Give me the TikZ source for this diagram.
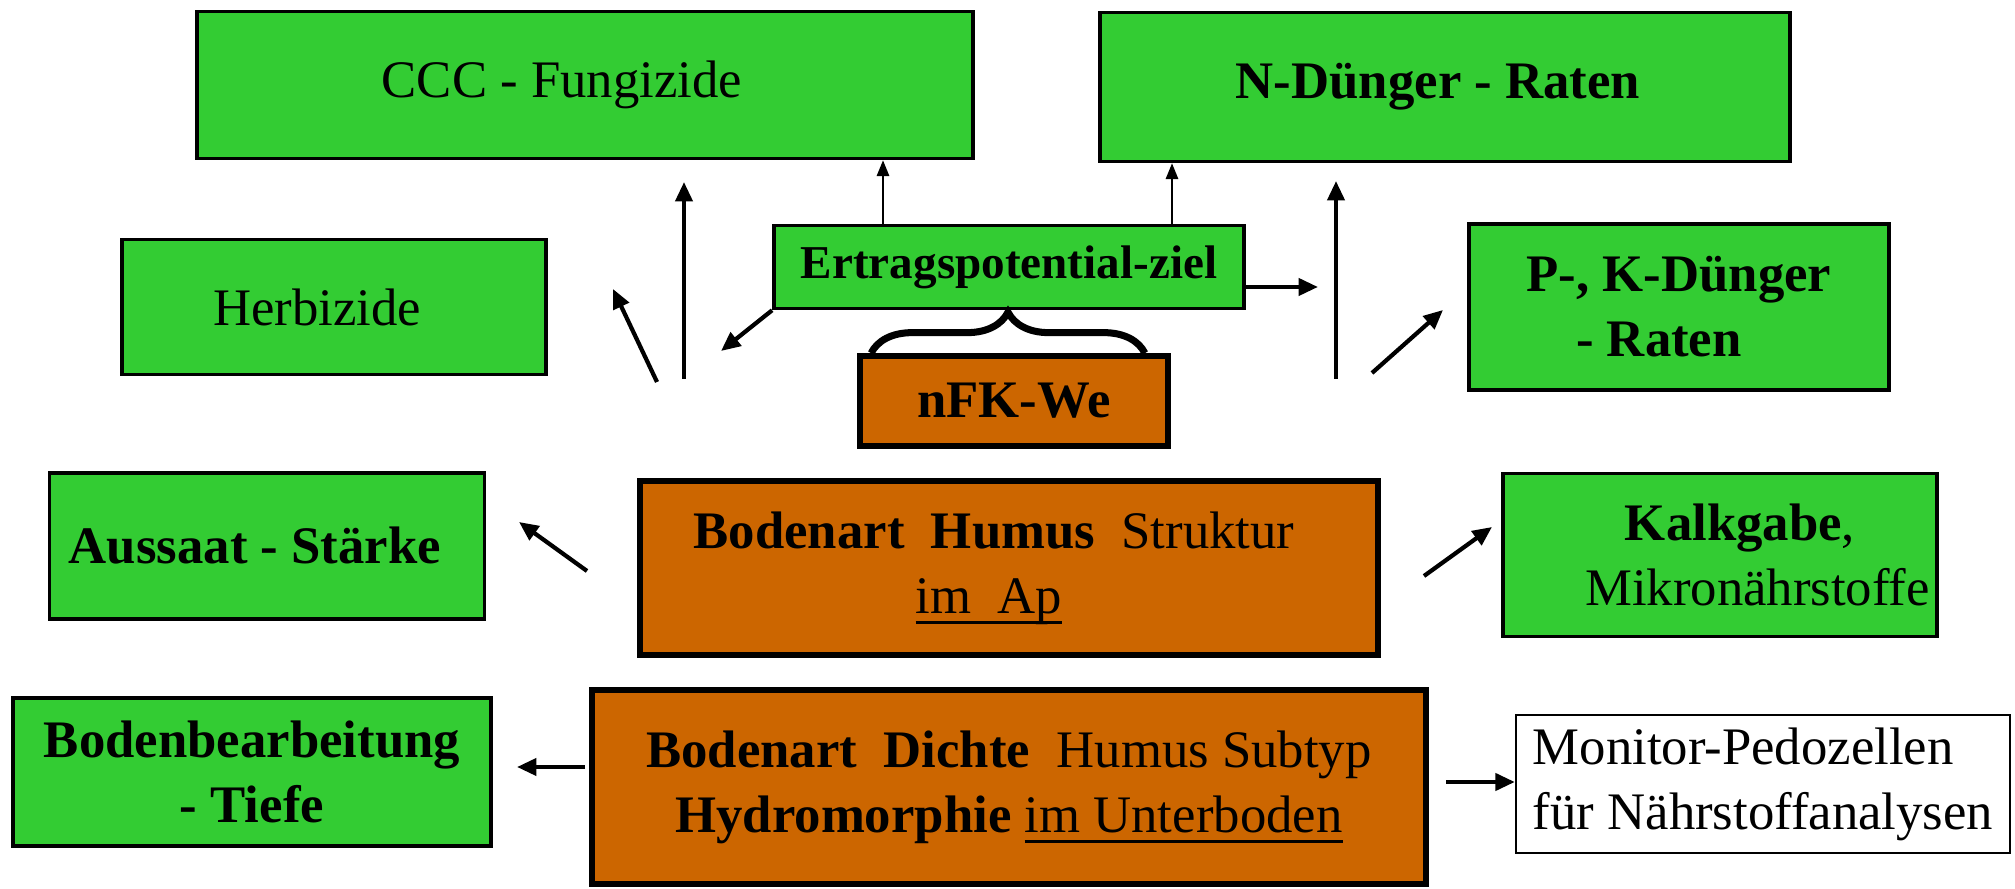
\documentclass[tikz,border=0pt]{standalone}
\usepackage{fontspec}
\setmainfont{Liberation Serif}
\usetikzlibrary{arrows.meta,decorations.pathreplacing}

\definecolor{boxgreen}{RGB}{51,204,51}
\definecolor{boxbrown}{RGB}{204,102,0}
\newcommand{\grosschrift}{\fontsize{15}{18.5}\selectfont}
\newcommand{\unterstr}[1]{\setbox0\hbox{#1}\rlap{\rule[-3pt]{\wd0}{0.8pt}}\box0}

\tikzset{
  gruen/.style={draw=black,line width=1pt,fill=boxgreen,align=center,inner sep=2pt},
  braun/.style={draw=black,line width=1.6pt,fill=boxbrown,align=center,inner sep=2pt},
  fett/.style={font=\grosschrift\bfseries},
  pfeil/.style={line width=1.2pt,-{Triangle[length=5.5pt,width=4.8pt]}},
  duenn/.style={line width=0.6pt,-{Triangle[length=4.5pt,width=3.5pt]}},
  klammer/.style={line width=2pt,decorate,decoration={brace,amplitude=0.41cm}},
}

\begin{document}
\begin{tikzpicture}[x=0.01cm,y=-0.01cm,font=\grosschrift]
        \useasboundingbox (0,0) rectangle (2015,889);

        \node[gruen,minimum width=7.76cm,minimum height=1.47cm] (ccc) at (585,85) {CCC - Fungizide\hspace*{0.46cm}};
        \node[gruen,fett,minimum width=6.9cm,minimum height=1.49cm] (ndung) at (1445,87) {N-Dünger - Raten\hspace*{0.14cm}};
        \node[gruen,minimum width=4.24cm,minimum height=1.35cm] (herbi) at (334,307) {Herbizide\hspace*{0.34cm}};
        \node[gruen,font=\fontsize{13.4}{16}\selectfont\bfseries,minimum width=4.7cm,minimum height=0.83cm] (ertrag) at (1009,267) {Ertragspotential-ziel};
        \node[gruen,fett,minimum width=4.2cm,minimum height=1.66cm] (pkdung) at (1679,307) {P-, K-Dünger\\- Raten\hspace*{0.4cm}};
        \node[braun,fett,minimum width=3.08cm,minimum height=0.9cm] (nfk) at (1014,401) {nFK-We};
        \node[gruen,fett,minimum width=4.35cm,minimum height=1.46cm] (aussaat) at (267,546) {Aussaat - Stärke\hspace*{0.24cm}};
        \node[braun,minimum width=7.38cm,minimum height=1.74cm] (ap) at (1009,568)
          {\textbf{Bodenart\ \ Humus}\ \ Struktur\hspace*{0.3cm}\\\unterstr{im\ \ Ap}\hspace*{0.4cm}};
        \node[gruen,minimum width=4.28cm,minimum height=1.63cm] (kalk) at (1720,555)
          {\hspace*{0.4cm}\textbf{Kalkgabe},\\\hspace*{0.75cm}Mikronährstoffe};
        \node[gruen,fett,minimum width=4.78cm,minimum height=1.48cm] (bearb) at (252,772) {Bodenbearbeitung\\- Tiefe};
        \node[braun,minimum width=8.34cm,minimum height=1.94cm] (unterboden) at (1009,787)
          {\textbf{Bodenart\ \ Dichte}\ \ Humus Subtyp\\\textbf{Hydromorphie} \unterstr{im Unterboden}};
        \node[draw=black,line width=0.6pt,fill=white,align=left,minimum width=4.94cm,minimum height=1.38cm,inner sep=2pt] (monitor) at (1763,784)
          {Monitor-Pedozellen\\für Nährstoffanalysen};

        \coordinate (lo1) at (684,379); \coordinate (lo2) at (684,182);
        \coordinate (ld1) at (657,382); \coordinate (ld2) at (613,289);
        \coordinate (ez) at (721,351);
        \coordinate (d1) at (883,0); \coordinate (d2) at (1172,0);
        \coordinate (er) at (1318,287);
        \coordinate (ro1) at (1336,379); \coordinate (ro2) at (1336,181);
        \coordinate (rd1) at (1372,373); \coordinate (rd2) at (1443,310);
        \coordinate (as1) at (587,571); \coordinate (as2) at (519,522);
        \coordinate (ka1) at (1424,576); \coordinate (ka2) at (1492,527);
        \coordinate (bb1) at (585,767); \coordinate (bb2) at (517,767);
        \coordinate (mo1) at (1446,782);

        \foreach \a/\b in {lo1/lo2, ld1/ld2, ro1/ro2, rd1/rd2, as1/as2, ka1/ka2, bb1/bb2} {
          \draw[pfeil] (\a) -- (\b);
        }
        \draw[pfeil] (ertrag.south west) -- (ez);
        \draw[pfeil] (ertrag.east |- er) -- (er);
        \draw[pfeil] (mo1) -- (monitor.west |- mo1);
        \draw[duenn] (ertrag.north -| d1) -- (ccc.south -| d1);
        \draw[duenn] (ertrag.north -| d2) -- (ndung.south -| d2);

        \draw[klammer] ([xshift=0.14cm]nfk.north west) -- ([xshift=-0.26cm]nfk.north east);
      \end{tikzpicture}
\end{document}
